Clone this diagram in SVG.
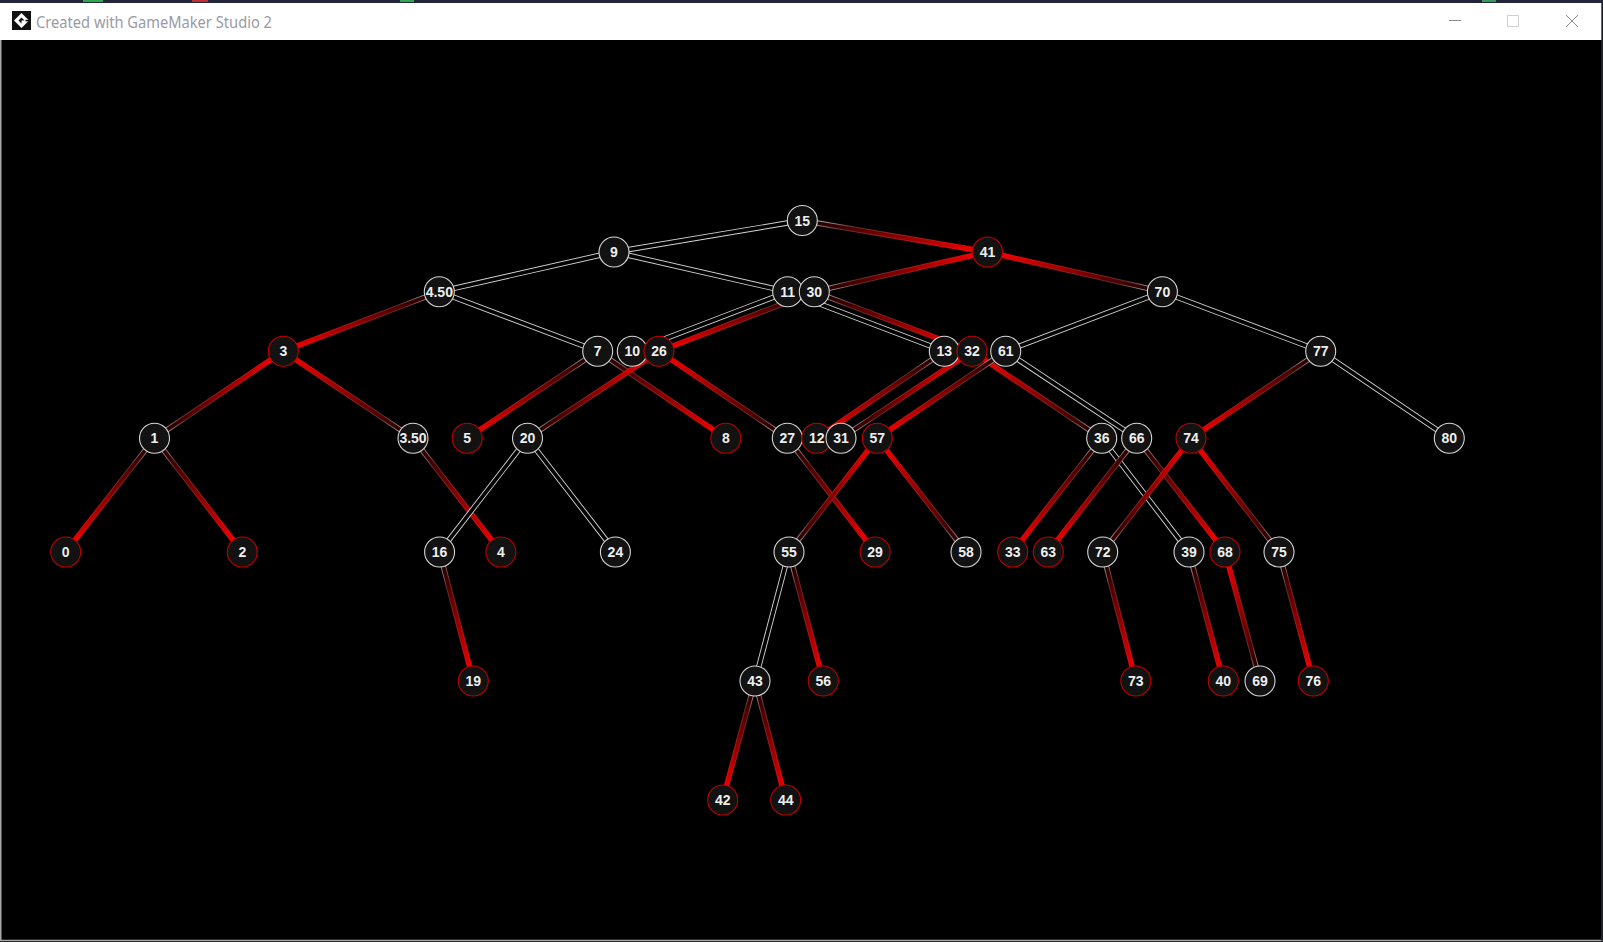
<svg xmlns="http://www.w3.org/2000/svg" width="1603" height="942" viewBox="0 0 1603 942">
<defs>
<linearGradient id="iBRr" x1="0" y1="0" x2="1" y2="1"><stop offset="0" stop-color="#100000"/><stop offset="1" stop-color="#ff0000"/></linearGradient>
<linearGradient id="iBRl" x1="1" y1="0" x2="0" y2="1"><stop offset="0" stop-color="#100000"/><stop offset="1" stop-color="#ff0000"/></linearGradient>
<linearGradient id="iRBr" x1="0" y1="0" x2="1" y2="1"><stop offset="0" stop-color="#ff0000"/><stop offset="1" stop-color="#100000"/></linearGradient>
<linearGradient id="iRBl" x1="1" y1="0" x2="0" y2="1"><stop offset="0" stop-color="#ff0000"/><stop offset="1" stop-color="#100000"/></linearGradient>
<linearGradient id="oBRr" x1="0" y1="0" x2="1" y2="1"><stop offset="0" stop-color="#c8c8c8"/><stop offset="0.25" stop-color="#603030"/><stop offset="1" stop-color="#ff0000"/></linearGradient>
<linearGradient id="oBRl" x1="1" y1="0" x2="0" y2="1"><stop offset="0" stop-color="#c8c8c8"/><stop offset="0.25" stop-color="#603030"/><stop offset="1" stop-color="#ff0000"/></linearGradient>
<linearGradient id="oRBr" x1="0" y1="0" x2="1" y2="1"><stop offset="0" stop-color="#ff0000"/><stop offset="0.75" stop-color="#603030"/><stop offset="1" stop-color="#c8c8c8"/></linearGradient>
<linearGradient id="oRBl" x1="1" y1="0" x2="0" y2="1"><stop offset="0" stop-color="#ff0000"/><stop offset="0.75" stop-color="#603030"/><stop offset="1" stop-color="#c8c8c8"/></linearGradient>
</defs>
<style>
.o{stroke-width:5.4;fill:none}
.i{stroke-width:3.6;fill:none}
.bb .o{stroke:#d4d4d4}.bb .i{stroke:#000}
.brr .o{stroke:url(#oBRr)}.brr .i{stroke:url(#iBRr)}
.brl .o{stroke:url(#oBRl)}.brl .i{stroke:url(#iBRl)}
.rbr .o{stroke:url(#oRBr)}.rbr .i{stroke:url(#iRBr)}
.rbl .o{stroke:url(#oRBl)}.rbl .i{stroke:url(#iRBl)}
.nb circle{fill:#121212;stroke:#d6d6d6;stroke-width:1.1}
.nr circle{fill:#121212;stroke:#c00000;stroke-width:1.1}
.node text{font-family:"Liberation Sans",Arial,sans-serif;font-weight:bold;font-size:14px;fill:#eeeeee;text-anchor:middle}
.title{font-family:"Noto Sans","Open Sans",sans-serif;font-size:15.5px;fill:#9a9aa6}
</style>
<rect x="0" y="0" width="1603" height="942" fill="#000"/>
<g id="window">
<rect x="0" y="0" width="1603" height="3" fill="#23253a"/>
<rect x="83" y="0" width="20" height="2" fill="#2fa84f"/>
<rect x="192" y="0" width="16" height="2" fill="#c03030"/>
<rect x="400" y="0" width="14" height="2" fill="#2fa84f"/>
<rect x="1482" y="0" width="14" height="2" fill="#3a9a5a"/>
<rect x="0" y="3" width="1602" height="37" fill="#ffffff"/>
<rect x="12" y="11" width="19" height="19" fill="#111"/>
<polygon points="21.5,13 29,20.5 21.5,28 14,20.5" fill="#fff"/>
<polygon points="21.5,17.5 24.5,20.5 21.5,20.5 21.5,23.5 18.5,20.5" fill="#111"/>
<rect x="25.5" y="19.8" width="3.5" height="1.6" fill="#111"/>
<text class="title" x="36" y="27.5" textLength="236" lengthAdjust="spacingAndGlyphs">Created with GameMaker Studio 2</text>
<line x1="1449" y1="20.5" x2="1461" y2="20.5" stroke="#8a8a8a" stroke-width="1"/>
<rect x="1507.5" y="15.5" width="11" height="11" fill="none" stroke="#d0d0d0" stroke-width="1"/>
<line x1="1566" y1="15" x2="1578" y2="27" stroke="#8a8a8a" stroke-width="1"/>
<line x1="1578" y1="15" x2="1566" y2="27" stroke="#8a8a8a" stroke-width="1"/>
<line x1="0.75" y1="40" x2="0.75" y2="941" stroke="#a8a8a8" stroke-width="1.5"/>
<line x1="0" y1="940.5" x2="1603" y2="940.5" stroke="#a8a8a8" stroke-width="1.5"/>
<line x1="1602" y1="0" x2="1602" y2="942" stroke="#2a2a34" stroke-width="1.5"/>
</g>
<g id="edges">
<g class="bb"><line class="o" x1="802.3" y1="220.5" x2="614" y2="252"/><line class="i" x1="802.3" y1="220.5" x2="614" y2="252"/></g>
<g class="brr"><line class="o" x1="802.3" y1="220.5" x2="987.5" y2="252"/><line class="i" x1="802.3" y1="220.5" x2="987.5" y2="252"/></g>
<g class="bb"><line class="o" x1="614" y1="252" x2="439.3" y2="291.7"/><line class="i" x1="614" y1="252" x2="439.3" y2="291.7"/></g>
<g class="bb"><line class="o" x1="614" y1="252" x2="787.7" y2="291.7"/><line class="i" x1="614" y1="252" x2="787.7" y2="291.7"/></g>
<g class="rbl"><line class="o" x1="987.5" y1="252" x2="814.3" y2="291.7"/><line class="i" x1="987.5" y1="252" x2="814.3" y2="291.7"/></g>
<g class="rbr"><line class="o" x1="987.5" y1="252" x2="1162.4" y2="291.7"/><line class="i" x1="987.5" y1="252" x2="1162.4" y2="291.7"/></g>
<g class="brl"><line class="o" x1="439.3" y1="291.7" x2="283.3" y2="351.3"/><line class="i" x1="439.3" y1="291.7" x2="283.3" y2="351.3"/></g>
<g class="bb"><line class="o" x1="439.3" y1="291.7" x2="597.7" y2="351.3"/><line class="i" x1="439.3" y1="291.7" x2="597.7" y2="351.3"/></g>
<g class="bb"><line class="o" x1="787.7" y1="291.7" x2="632.3" y2="351.3"/><line class="i" x1="787.7" y1="291.7" x2="632.3" y2="351.3"/></g>
<g class="bb"><line class="o" x1="787.7" y1="291.7" x2="944.3" y2="351.3"/><line class="i" x1="787.7" y1="291.7" x2="944.3" y2="351.3"/></g>
<g class="brl"><line class="o" x1="814.3" y1="291.7" x2="659" y2="351.3"/><line class="i" x1="814.3" y1="291.7" x2="659" y2="351.3"/></g>
<g class="brr"><line class="o" x1="814.3" y1="291.7" x2="972" y2="351.3"/><line class="i" x1="814.3" y1="291.7" x2="972" y2="351.3"/></g>
<g class="bb"><line class="o" x1="1162.4" y1="291.7" x2="1005.7" y2="351.3"/><line class="i" x1="1162.4" y1="291.7" x2="1005.7" y2="351.3"/></g>
<g class="bb"><line class="o" x1="1162.4" y1="291.7" x2="1320.7" y2="351.3"/><line class="i" x1="1162.4" y1="291.7" x2="1320.7" y2="351.3"/></g>
<g class="rbl"><line class="o" x1="283.3" y1="351.3" x2="154.5" y2="438.3"/><line class="i" x1="283.3" y1="351.3" x2="154.5" y2="438.3"/></g>
<g class="rbr"><line class="o" x1="283.3" y1="351.3" x2="413" y2="438.3"/><line class="i" x1="283.3" y1="351.3" x2="413" y2="438.3"/></g>
<g class="brl"><line class="o" x1="597.7" y1="351.3" x2="467.2" y2="438.3"/><line class="i" x1="597.7" y1="351.3" x2="467.2" y2="438.3"/></g>
<g class="brr"><line class="o" x1="597.7" y1="351.3" x2="725.8" y2="438.3"/><line class="i" x1="597.7" y1="351.3" x2="725.8" y2="438.3"/></g>
<g class="brl"><line class="o" x1="944.3" y1="351.3" x2="816.7" y2="438.3"/><line class="i" x1="944.3" y1="351.3" x2="816.7" y2="438.3"/></g>
<g class="rbl"><line class="o" x1="659" y1="351.3" x2="527.5" y2="438.3"/><line class="i" x1="659" y1="351.3" x2="527.5" y2="438.3"/></g>
<g class="rbr"><line class="o" x1="659" y1="351.3" x2="787.3" y2="438.3"/><line class="i" x1="659" y1="351.3" x2="787.3" y2="438.3"/></g>
<g class="rbl"><line class="o" x1="972" y1="351.3" x2="841" y2="438.3"/><line class="i" x1="972" y1="351.3" x2="841" y2="438.3"/></g>
<g class="rbr"><line class="o" x1="972" y1="351.3" x2="1101.7" y2="438.3"/><line class="i" x1="972" y1="351.3" x2="1101.7" y2="438.3"/></g>
<g class="brl"><line class="o" x1="1005.7" y1="351.3" x2="877.3" y2="438.3"/><line class="i" x1="1005.7" y1="351.3" x2="877.3" y2="438.3"/></g>
<g class="bb"><line class="o" x1="1005.7" y1="351.3" x2="1136.7" y2="438.3"/><line class="i" x1="1005.7" y1="351.3" x2="1136.7" y2="438.3"/></g>
<g class="brl"><line class="o" x1="1320.7" y1="351.3" x2="1191" y2="438.3"/><line class="i" x1="1320.7" y1="351.3" x2="1191" y2="438.3"/></g>
<g class="bb"><line class="o" x1="1320.7" y1="351.3" x2="1449.3" y2="438.3"/><line class="i" x1="1320.7" y1="351.3" x2="1449.3" y2="438.3"/></g>
<g class="brl"><line class="o" x1="154.5" y1="438.3" x2="65.7" y2="552"/><line class="i" x1="154.5" y1="438.3" x2="65.7" y2="552"/></g>
<g class="brr"><line class="o" x1="154.5" y1="438.3" x2="242.3" y2="552"/><line class="i" x1="154.5" y1="438.3" x2="242.3" y2="552"/></g>
<g class="brr"><line class="o" x1="413" y1="438.3" x2="500.9" y2="552"/><line class="i" x1="413" y1="438.3" x2="500.9" y2="552"/></g>
<g class="bb"><line class="o" x1="527.5" y1="438.3" x2="439.6" y2="552"/><line class="i" x1="527.5" y1="438.3" x2="439.6" y2="552"/></g>
<g class="bb"><line class="o" x1="527.5" y1="438.3" x2="615.4" y2="552"/><line class="i" x1="527.5" y1="438.3" x2="615.4" y2="552"/></g>
<g class="brr"><line class="o" x1="787.3" y1="438.3" x2="875.1" y2="552"/><line class="i" x1="787.3" y1="438.3" x2="875.1" y2="552"/></g>
<g class="rbl"><line class="o" x1="877.3" y1="438.3" x2="789" y2="552"/><line class="i" x1="877.3" y1="438.3" x2="789" y2="552"/></g>
<g class="rbr"><line class="o" x1="877.3" y1="438.3" x2="966" y2="552"/><line class="i" x1="877.3" y1="438.3" x2="966" y2="552"/></g>
<g class="brl"><line class="o" x1="1101.7" y1="438.3" x2="1012.7" y2="552"/><line class="i" x1="1101.7" y1="438.3" x2="1012.7" y2="552"/></g>
<g class="bb"><line class="o" x1="1101.7" y1="438.3" x2="1189" y2="552"/><line class="i" x1="1101.7" y1="438.3" x2="1189" y2="552"/></g>
<g class="brl"><line class="o" x1="1136.7" y1="438.3" x2="1048.3" y2="552"/><line class="i" x1="1136.7" y1="438.3" x2="1048.3" y2="552"/></g>
<g class="brr"><line class="o" x1="1136.7" y1="438.3" x2="1225" y2="552"/><line class="i" x1="1136.7" y1="438.3" x2="1225" y2="552"/></g>
<g class="rbl"><line class="o" x1="1191" y1="438.3" x2="1102.7" y2="552"/><line class="i" x1="1191" y1="438.3" x2="1102.7" y2="552"/></g>
<g class="rbr"><line class="o" x1="1191" y1="438.3" x2="1279" y2="552"/><line class="i" x1="1191" y1="438.3" x2="1279" y2="552"/></g>
<g class="brr"><line class="o" x1="439.6" y1="552" x2="473.3" y2="681"/><line class="i" x1="439.6" y1="552" x2="473.3" y2="681"/></g>
<g class="bb"><line class="o" x1="789" y1="552" x2="755" y2="681"/><line class="i" x1="789" y1="552" x2="755" y2="681"/></g>
<g class="brr"><line class="o" x1="789" y1="552" x2="823.3" y2="681"/><line class="i" x1="789" y1="552" x2="823.3" y2="681"/></g>
<g class="brr"><line class="o" x1="1189" y1="552" x2="1223.3" y2="681"/><line class="i" x1="1189" y1="552" x2="1223.3" y2="681"/></g>
<g class="rbr"><line class="o" x1="1225" y1="552" x2="1260" y2="681"/><line class="i" x1="1225" y1="552" x2="1260" y2="681"/></g>
<g class="brr"><line class="o" x1="1102.7" y1="552" x2="1135.8" y2="681"/><line class="i" x1="1102.7" y1="552" x2="1135.8" y2="681"/></g>
<g class="brr"><line class="o" x1="1279" y1="552" x2="1313.3" y2="681"/><line class="i" x1="1279" y1="552" x2="1313.3" y2="681"/></g>
<g class="brl"><line class="o" x1="755" y1="681" x2="722.7" y2="800"/><line class="i" x1="755" y1="681" x2="722.7" y2="800"/></g>
<g class="brr"><line class="o" x1="755" y1="681" x2="785.7" y2="800"/><line class="i" x1="755" y1="681" x2="785.7" y2="800"/></g>
</g>
<g id="nodes">
<g id="n15" class="node nb"><circle cx="802.3" cy="220.5" r="15"/><text x="802.3" y="225.5">15</text></g>
<g id="n9" class="node nb"><circle cx="614" cy="252" r="15"/><text x="614" y="257">9</text></g>
<g id="n41" class="node nr"><circle cx="987.5" cy="252" r="15"/><text x="987.5" y="257">41</text></g>
<g id="n4_50" class="node nb"><circle cx="439.3" cy="291.7" r="15"/><text x="439.3" y="296.7">4.50</text></g>
<g id="n11" class="node nb"><circle cx="787.7" cy="291.7" r="15"/><text x="787.7" y="296.7">11</text></g>
<g id="n30" class="node nb"><circle cx="814.3" cy="291.7" r="15"/><text x="814.3" y="296.7">30</text></g>
<g id="n70" class="node nb"><circle cx="1162.4" cy="291.7" r="15"/><text x="1162.4" y="296.7">70</text></g>
<g id="n3" class="node nr"><circle cx="283.3" cy="351.3" r="15"/><text x="283.3" y="356.3">3</text></g>
<g id="n7" class="node nb"><circle cx="597.7" cy="351.3" r="15"/><text x="597.7" y="356.3">7</text></g>
<g id="n10" class="node nb"><circle cx="632.3" cy="351.3" r="15"/><text x="632.3" y="356.3">10</text></g>
<g id="n26" class="node nr"><circle cx="659" cy="351.3" r="15"/><text x="659" y="356.3">26</text></g>
<g id="n13" class="node nb"><circle cx="944.3" cy="351.3" r="15"/><text x="944.3" y="356.3">13</text></g>
<g id="n32" class="node nr"><circle cx="972" cy="351.3" r="15"/><text x="972" y="356.3">32</text></g>
<g id="n61" class="node nb"><circle cx="1005.7" cy="351.3" r="15"/><text x="1005.7" y="356.3">61</text></g>
<g id="n77" class="node nb"><circle cx="1320.7" cy="351.3" r="15"/><text x="1320.7" y="356.3">77</text></g>
<g id="n1" class="node nb"><circle cx="154.5" cy="438.3" r="15"/><text x="154.5" y="443.3">1</text></g>
<g id="n3_50" class="node nb"><circle cx="413" cy="438.3" r="15"/><text x="413" y="443.3">3.50</text></g>
<g id="n5" class="node nr"><circle cx="467.2" cy="438.3" r="15"/><text x="467.2" y="443.3">5</text></g>
<g id="n20" class="node nb"><circle cx="527.5" cy="438.3" r="15"/><text x="527.5" y="443.3">20</text></g>
<g id="n8" class="node nr"><circle cx="725.8" cy="438.3" r="15"/><text x="725.8" y="443.3">8</text></g>
<g id="n27" class="node nb"><circle cx="787.3" cy="438.3" r="15"/><text x="787.3" y="443.3">27</text></g>
<g id="n12" class="node nr"><circle cx="816.7" cy="438.3" r="15"/><text x="816.7" y="443.3">12</text></g>
<g id="n31" class="node nb"><circle cx="841" cy="438.3" r="15"/><text x="841" y="443.3">31</text></g>
<g id="n57" class="node nr"><circle cx="877.3" cy="438.3" r="15"/><text x="877.3" y="443.3">57</text></g>
<g id="n36" class="node nb"><circle cx="1101.7" cy="438.3" r="15"/><text x="1101.7" y="443.3">36</text></g>
<g id="n66" class="node nb"><circle cx="1136.7" cy="438.3" r="15"/><text x="1136.7" y="443.3">66</text></g>
<g id="n74" class="node nr"><circle cx="1191" cy="438.3" r="15"/><text x="1191" y="443.3">74</text></g>
<g id="n80" class="node nb"><circle cx="1449.3" cy="438.3" r="15"/><text x="1449.3" y="443.3">80</text></g>
<g id="n0" class="node nr"><circle cx="65.7" cy="552" r="15"/><text x="65.7" y="557">0</text></g>
<g id="n2" class="node nr"><circle cx="242.3" cy="552" r="15"/><text x="242.3" y="557">2</text></g>
<g id="n16" class="node nb"><circle cx="439.6" cy="552" r="15"/><text x="439.6" y="557">16</text></g>
<g id="n4" class="node nr"><circle cx="500.9" cy="552" r="15"/><text x="500.9" y="557">4</text></g>
<g id="n24" class="node nb"><circle cx="615.4" cy="552" r="15"/><text x="615.4" y="557">24</text></g>
<g id="n55" class="node nb"><circle cx="789" cy="552" r="15"/><text x="789" y="557">55</text></g>
<g id="n29" class="node nr"><circle cx="875.1" cy="552" r="15"/><text x="875.1" y="557">29</text></g>
<g id="n58" class="node nb"><circle cx="966" cy="552" r="15"/><text x="966" y="557">58</text></g>
<g id="n33" class="node nr"><circle cx="1012.7" cy="552" r="15"/><text x="1012.7" y="557">33</text></g>
<g id="n63" class="node nr"><circle cx="1048.3" cy="552" r="15"/><text x="1048.3" y="557">63</text></g>
<g id="n72" class="node nb"><circle cx="1102.7" cy="552" r="15"/><text x="1102.7" y="557">72</text></g>
<g id="n39" class="node nb"><circle cx="1189" cy="552" r="15"/><text x="1189" y="557">39</text></g>
<g id="n68" class="node nr"><circle cx="1225" cy="552" r="15"/><text x="1225" y="557">68</text></g>
<g id="n75" class="node nb"><circle cx="1279" cy="552" r="15"/><text x="1279" y="557">75</text></g>
<g id="n19" class="node nr"><circle cx="473.3" cy="681" r="15"/><text x="473.3" y="686">19</text></g>
<g id="n43" class="node nb"><circle cx="755" cy="681" r="15"/><text x="755" y="686">43</text></g>
<g id="n56" class="node nr"><circle cx="823.3" cy="681" r="15"/><text x="823.3" y="686">56</text></g>
<g id="n73" class="node nr"><circle cx="1135.8" cy="681" r="15"/><text x="1135.8" y="686">73</text></g>
<g id="n40" class="node nr"><circle cx="1223.3" cy="681" r="15"/><text x="1223.3" y="686">40</text></g>
<g id="n69" class="node nb"><circle cx="1260" cy="681" r="15"/><text x="1260" y="686">69</text></g>
<g id="n76" class="node nr"><circle cx="1313.3" cy="681" r="15"/><text x="1313.3" y="686">76</text></g>
<g id="n42" class="node nr"><circle cx="722.7" cy="800" r="15"/><text x="722.7" y="805">42</text></g>
<g id="n44" class="node nr"><circle cx="785.7" cy="800" r="15"/><text x="785.7" y="805">44</text></g>
</g>
</svg>
